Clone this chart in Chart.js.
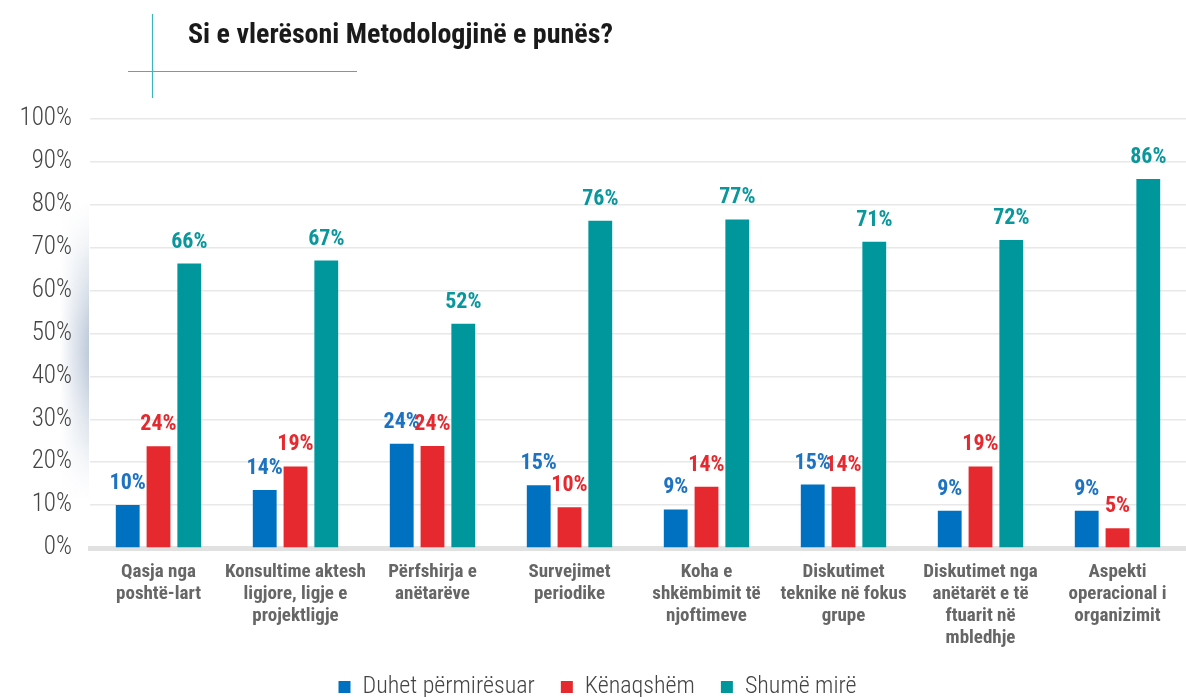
<!DOCTYPE html>
<html>
<head>
<meta charset="utf-8">
<script src="https://cdn.jsdelivr.net/npm/chart.js@4/dist/chart.umd.min.js"></script>
<style>
html,body{margin:0;padding:0;background:#fff;}
#wrap{position:relative;width:1186px;height:697px;}
</style>
</head>
<body>
<div id="wrap"><canvas id="c" width="1186" height="697"></canvas></div>
<script>
const titleText = "Si e vlerësoni Metodologjinë e punës?";
const categories = [
  ["Qasja nga", "poshtë-lart"],
  ["Konsultime aktesh", "ligjore, ligje e", "projektligje"],
  ["Përfshirja e", "anëtarëve"],
  ["Survejimet", "periodike"],
  ["Koha e", "shkëmbimit të", "njoftimeve"],
  ["Diskutimet", "teknike në fokus", "grupe"],
  ["Diskutimet nga", "anëtarët e të", "ftuarit në", "mbledhje"],
  ["Aspekti", "operacional i", "organizimit"]
];
const seriesNames = ["Duhet përmirësuar", "Kënaqshëm", "Shumë mirë"];
const duhetPermiresuar = [10, 13.5, 24.3, 14.6, 9, 14.8, 8.7, 8.7];
const kenaqshem = [23.7, 19, 23.8, 9.5, 14.3, 14.3, 19, 4.6];
const shumeMire = [66.3, 67, 52.3, 76.3, 76.6, 71.4, 71.8, 86];
const yTicks = [0, 10, 20, 30, 40, 50, 60, 70, 80, 90, 100];

const colors = ["#0070c0", "#e5292e", "#00979c"];
const COND = '"Roboto Condensed", "Open Sans Condensed", "DejaVu Sans Condensed", sans-serif';

const decoPlugin = {
  id: 'deco',
  beforeDraw(chart) {
    const ctx = chart.ctx;
    ctx.save();
    // page-fold shading at the left edge of the plot
    for (let y = 200; y < 500; y += 2) {
      const d = (y - 350) / 70;
      const a = 0.10 + 0.30 * Math.exp(-d * d);
      const edge = Math.min(1, Math.min(y - 200, 500 - y) / 60);
      const g = ctx.createLinearGradient(60, 0, 89, 0);
      g.addColorStop(0, 'rgba(95,125,165,0)');
      g.addColorStop(1, 'rgba(95,125,165,' + (a * edge).toFixed(3) + ')');
      ctx.fillStyle = g;
      ctx.fillRect(60, y, 29, 2);
    }
    // decorative lines
    ctx.strokeStyle = '#3db3ba';
    ctx.lineWidth = 1.2;
    ctx.beginPath();
    ctx.moveTo(152.5, 14); ctx.lineTo(152.5, 98);
    ctx.moveTo(128, 71.5); ctx.lineTo(357, 71.5);
    ctx.stroke();
    // title
    ctx.fillStyle = '#1a1a1a';
    ctx.font = 'bold 28px ' + COND;
    ctx.textBaseline = 'middle';
    ctx.textAlign = 'left';
    ctx.fillText(titleText, 188, 36);
    ctx.restore();
  },
  afterDatasetsDraw(chart) {
    const ctx = chart.ctx;
    ctx.save();
    ctx.font = 'bold 22px ' + COND;
    ctx.textAlign = 'center';
    ctx.textBaseline = 'alphabetic';
    chart.data.datasets.forEach((ds, di) => {
      const meta = chart.getDatasetMeta(di);
      ctx.fillStyle = ds.labelColor;
      meta.data.forEach((bar, i) => {
        const v = Math.round(ds.data[i]);
        ctx.fillText(v + '%', bar.x, bar.y - 16);
      });
    });
    ctx.restore();
  }
};

new Chart(document.getElementById('c'), {
  type: 'bar',
  data: {
    labels: categories,
    datasets: [
      { label: seriesNames[0], data: duhetPermiresuar, backgroundColor: colors[0], labelColor: '#1d72c2' },
      { label: seriesNames[1], data: kenaqshem, backgroundColor: colors[1], labelColor: '#e5292e' },
      { label: seriesNames[2], data: shumeMire, backgroundColor: colors[2], labelColor: '#0a979c' }
    ]
  },
  options: {
    responsive: false,
    animation: false,
    events: [],
    layout: { padding: { top: 119, right: -9, bottom: -12, left: 0 } },
    datasets: { bar: { categoryPercentage: 0.674, barPercentage: 0.774 } },
    plugins: {
      tooltip: { enabled: false },
      title: { display: false },
      legend: {
        position: 'bottom',
        labels: {
          boxWidth: 12, boxHeight: 12, padding: 26,
          color: '#444',
          font: { family: COND, size: 24, weight: '300' }
        }
      }
    },
    scales: {
      x: {
        grid: { display: false, drawTicks: false },
        border: { display: true, color: '#e1e1e1', width: 5 },
        ticks: {
          color: '#666', padding: 13, maxRotation: 0, autoSkip: false,
          font: { family: COND, size: 19, weight: 'bold', lineHeight: 1.16 }
        },
        afterFit(scale) { scale.height = 101; }
      },
      y: {
        min: 0, max: 100,
        afterBuildTicks(scale) { scale.ticks = yTicks.map(v => ({ value: v })); },
        grid: { color: '#e8e8e8', lineWidth: 1.5, drawTicks: false },
        border: { display: false },
        ticks: {
          color: '#444', padding: 18,
          font: { family: COND, size: 25, weight: '300' },
          callback: v => v + '%'
        },
        afterFit(scale) { scale.width = 90; }
      }
    }
  },
  plugins: [decoPlugin]
});
</script>
</body>
</html>
